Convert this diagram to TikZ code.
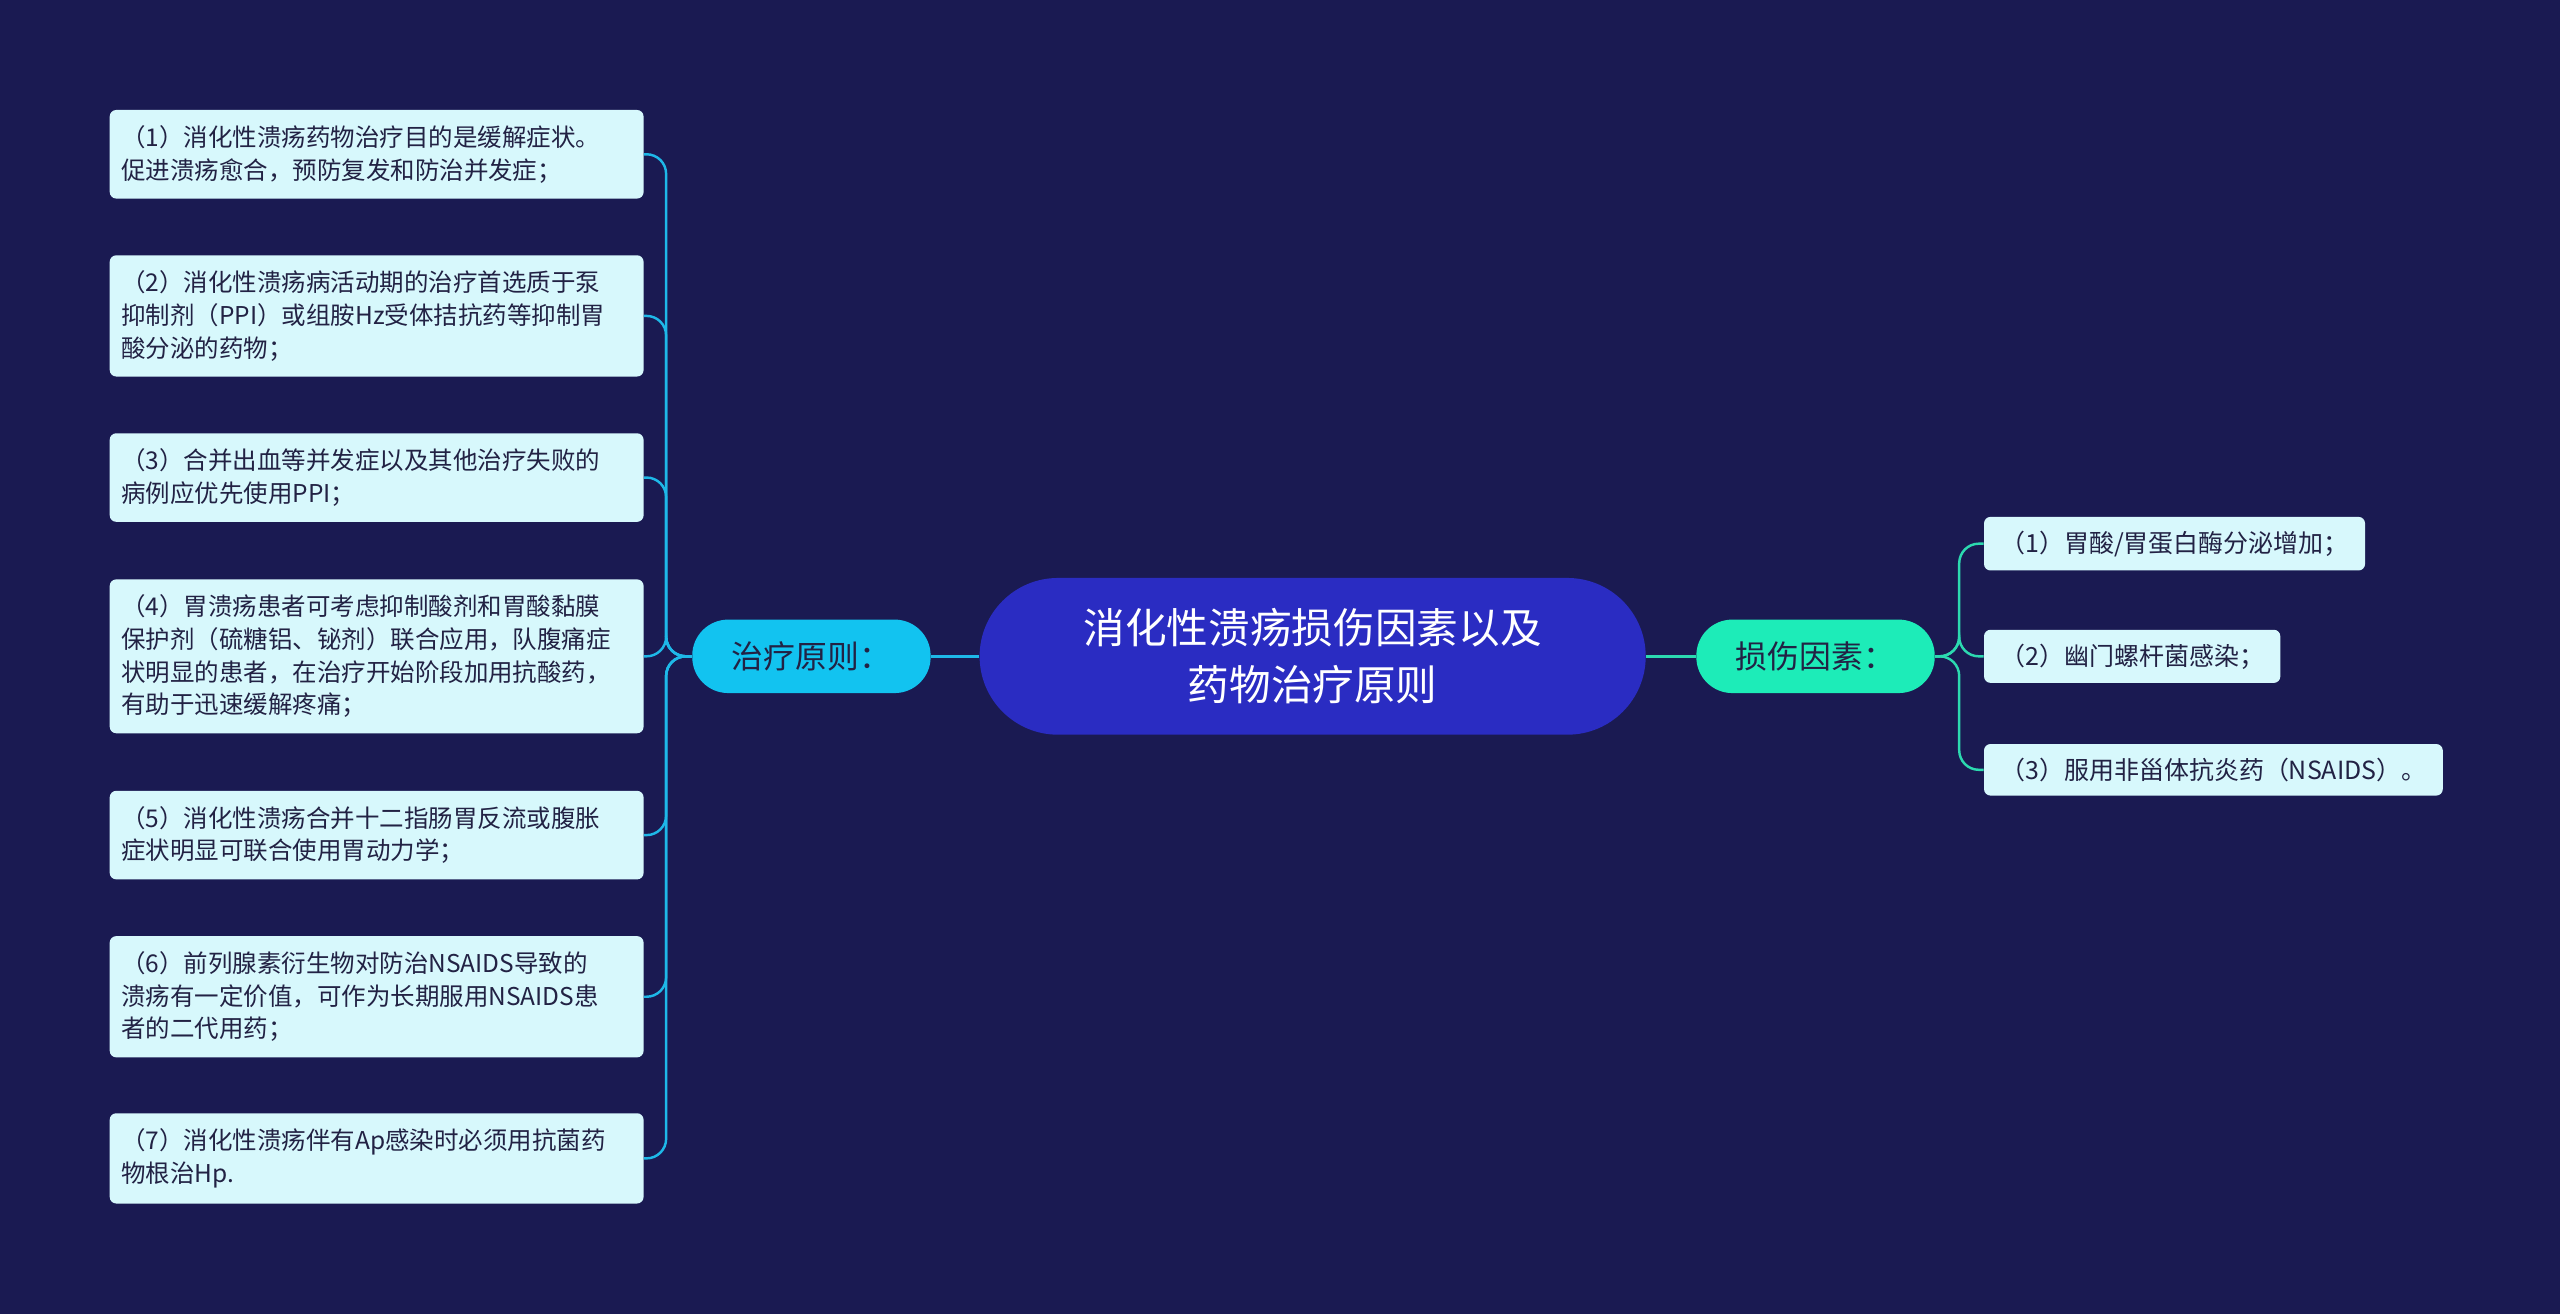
\documentclass[tikz,border=0pt]{standalone}
\usepackage{fontspec}
\setmainfont{Noto Sans CJK SC}
\definecolor{bg}{HTML}{1A1A52}
\definecolor{ctr}{HTML}{2A2CC2}
\definecolor{lbr}{HTML}{12C3F0}
\definecolor{rbr}{HTML}{1DECB8}
\definecolor{leaf}{HTML}{D7F8FC}
\definecolor{ltxt}{HTML}{222244}
\definecolor{lline}{HTML}{1EB8E8}
\definecolor{rline}{HTML}{2CD9B0}
\begin{document}
\begin{tikzpicture}[x=1pt,y=-1pt,
  lleaf/.style={fill=leaf,rounded corners=4pt,anchor=west,text width=313pt,inner xsep=7pt,inner ysep=9.5pt,align=left,font=\fontsize{15}{20}\selectfont,text=ltxt},
  rleaf/.style={fill=leaf,rounded corners=4pt,anchor=west,inner xsep=10pt,inner ysep=8.5pt,font=\fontsize{15.3}{20}\selectfont,text=ltxt},
  lc/.style={draw=lline,line width=1.5pt,rounded corners=12pt},
  rc/.style={draw=rline,line width=1.5pt,rounded corners=12pt}]
\fill[bg] (0,0) rectangle (1568,805);
\useasboundingbox (0,0) rectangle (1568,805);
\node[fill=ctr,rounded corners=48pt,minimum width=408pt,minimum height=96pt,text=white,align=center,font=\fontsize{25.5}{35}\selectfont] (c) at (804,402) {消化性溃疡损伤因素以及\\药物治疗原则};
\node[fill=lbr,rounded corners=22pt,minimum width=146pt,minimum height=45pt,text=ltxt,font=\fontsize{19.5}{22}\selectfont] (L) at (497,402) {治疗原则：};
\node[fill=rbr,rounded corners=22pt,minimum width=146pt,minimum height=45pt,text=ltxt,font=\fontsize{19.5}{22}\selectfont] (R) at (1112,402) {损伤因素：};
\draw[lc] (c.west) -- (L.east);
\draw[rc] (c.east) -- (R.west);
\node[lleaf] (l1) at (67,94.5) {（1）消化性溃疡药物治疗目的是缓解症状。\\促进溃疡愈合，预防复发和防治并发症；};
\node[lleaf] (l2) at (67,193.5) {（2）消化性溃疡病活动期的治疗首选质于泵\\抑制剂（PPI）或组胺Hz受体拮抗药等抑制胃\\酸分泌的药物；};
\node[lleaf] (l3) at (67,292.5) {（3）合并出血等并发症以及其他治疗失败的\\病例应优先使用PPI；};
\node[lleaf] (l4) at (67,402) {（4）胃溃疡患者可考虑抑制酸剂和胃酸黏膜\\保护剂（硫糖铝、铋剂）联合应用，队腹痛症\\状明显的患者，在治疗开始阶段加用抗酸药，\\有助于迅速缓解疼痛；};
\node[lleaf] (l5) at (67,511.5) {（5）消化性溃疡合并十二指肠胃反流或腹胀\\症状明显可联合使用胃动力学；};
\node[lleaf] (l6) at (67,610.5) {（6）前列腺素衍生物对防治NSAIDS导致的\\溃疡有一定价值，可作为长期服用NSAIDS患\\者的二代用药；};
\node[lleaf] (l7) at (67,709.5) {（7）消化性溃疡伴有Ap感染时必须用抗菌药\\物根治Hp.};
\foreach \n in {l1,l2,l3,l4,l5,l6,l7}
  \draw[lc] (L.west) -- (408,402) |- (\n.east);
\node[rleaf] (r1) at (1215,333) {（1）胃酸/胃蛋白酶分泌增加；};
\node[rleaf] (r2) at (1215,402) {（2）幽门螺杆菌感染；};
\node[rleaf] (r3) at (1215,471.5) {（3）服用非甾体抗炎药（NSAIDS）。};
\foreach \n in {r1,r2,r3}
  \draw[rc] (R.east) -- (1200,402) |- (\n.west);
\end{tikzpicture}
\end{document}
